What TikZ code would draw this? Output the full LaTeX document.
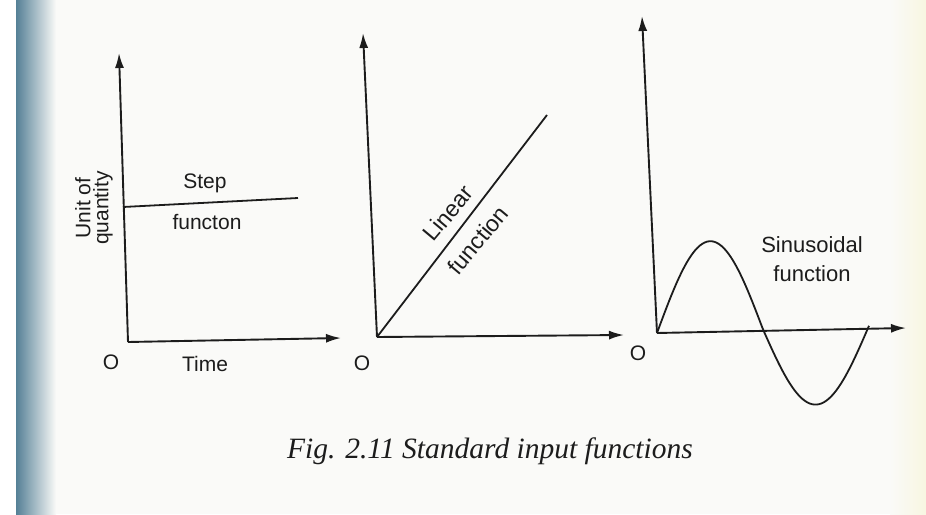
\documentclass[tikz,border=0pt]{standalone}
\usepackage{fontspec}
\setmainfont{Liberation Serif}
\newfontfamily\lblfont{Liberation Sans}
\usetikzlibrary{arrows.meta}
\definecolor{paper}{RGB}{250,250,248}
\definecolor{band}{RGB}{85,128,150}
\definecolor{ink}{RGB}{28,28,28}
\tikzset{
  axis/.style={ink, line width=1.9pt, -{Latex[length=15pt,width=9pt]}},
  curve/.style={ink, line width=1.8pt},
  lbl/.style={font=\lblfont\fontsize{21}{22}\selectfont, text=ink, inner sep=0pt, align=center},
  caption/.style={font=\fontsize{29.5}{31}\selectfont\itshape, text=ink, inner sep=0pt}
}
\begin{document}
\begin{tikzpicture}[x=1pt,y=-1pt]
\useasboundingbox (0,0) rectangle (926,514);
\fill[paper] (0,0) rectangle (926,514);
\shade[left color=band, right color=paper] (16,0) rectangle (56,514);
\shade[left color=paper, right color={rgb,255:red,248;green,246;blue,225}] (890,0) rectangle (926,514);
\fill[white] (0,0) rectangle (16,514);

% Panel 1: step function
\coordinate (o1) at (128,342);
\coordinate (y1) at (119,53);
\coordinate (x1) at (341,338);
\coordinate (s1a) at (123,207);
\coordinate (s1b) at (298,198);
\draw[axis] (o1) -- (y1);
\draw[axis] (o1) -- (x1);
\draw[curve] (s1a) -- (s1b);
\node[lbl] (step) at (205,183) {Step};
\node[lbl] (functon) at (207,222) {functon};
\node[lbl, rotate=90] (unit) at (94,208) {Unit of\\[-4pt]quantity};
\node[lbl] (O1) at (111,362) {O};
\node[lbl] (time) at (205,364) {Time};

% Panel 2: linear function
\coordinate (o2) at (377,337);
\coordinate (y2) at (363,33);
\coordinate (x2) at (624,335);
\coordinate (l2) at (547,115);
\draw[axis] (o2) -- (y2);
\draw[axis] (o2) -- (x2);
\draw[curve] (o2) -- (l2);
\node[lbl, font=\lblfont\fontsize{23}{24}\selectfont, rotate=50] (linear) at (448,213) {Linear};
\node[lbl, font=\lblfont\fontsize{23}{24}\selectfont, rotate=50] (function2) at (478,240) {function};
\node[lbl] (O2) at (362,363) {O};

% Panel 3: sinusoidal function
\coordinate (o3) at (657,333);
\coordinate (y3) at (642,16);
\coordinate (x3) at (906,328);
\draw[axis] (o3) -- (y3);
\draw[axis] (o3) -- (x3);
\draw[curve] plot[domain=0:360, samples=90, smooth] ({657+\x/360*212}, {333-0.02*\x - (\x<180 ? 90 : 77)*sin(\x)});
\node[lbl, font=\lblfont\fontsize{22}{23}\selectfont] (sin) at (812,259) {Sinusoidal\\[6pt]function};
\node[lbl] (O3) at (638,353) {O};

% caption
\node[caption] (cap) at (490,451) {Fig. 2.11 Standard input functions};
\end{tikzpicture}
\end{document}
